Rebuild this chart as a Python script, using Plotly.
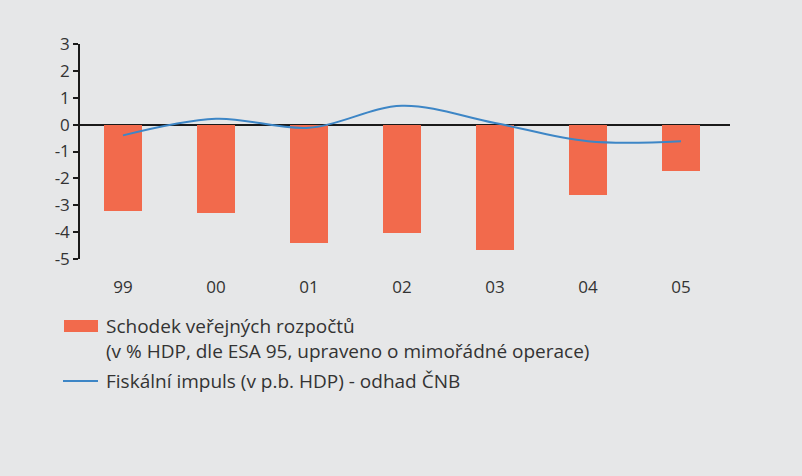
import plotly.graph_objects as go

categories = ["99", "00", "01", "02", "03", "04", "05"]
deficit = [-3.2, -3.3, -4.42, -4.05, -4.65, -2.6, -1.72]
impulse = [-0.4, 0.22, -0.12, 0.7, 0.06, -0.62, -0.62]
y_ticks = [3, 2, 1, 0, -1, -2, -3, -4, -5]
y_labels = ["3", "2", "1", "0", "-1", "-2", "-3", "-4", "-5"]
legend_bar = ["Schodek veřejných rozpočtů",
              "(v % HDP, dle ESA 95, upraveno o mimořádné operace)"]
legend_line = "Fiskální impuls (v p.b. HDP) - odhad ČNB"

BG = "#e6e7e8"
BAR = "#f26a4c"
LINE = "#3d86c6"
TXT = "#333333"
FONT = "Open Sans"

fig = go.Figure()
fig.add_trace(go.Bar(x=categories, y=deficit, marker=dict(color=BAR, line=dict(width=0)),
                     width=0.41, showlegend=False))
fig.add_trace(go.Scatter(x=categories, y=impulse, mode="lines",
                         line=dict(color=LINE, width=2, shape="spline", smoothing=1.0),
                         showlegend=False))

fig.update_layout(
    width=802, height=476,
    margin=dict(l=80, r=72, t=44, b=217),
    paper_bgcolor=BG, plot_bgcolor=BG,
    font=dict(family=FONT, size=17, color=TXT),
    xaxis=dict(type="category", range=[-0.462, 6.527], showgrid=False, zeroline=False,
               showline=False, ticks="outside", ticklen=13, tickcolor="rgba(0,0,0,0)",
               tickfont=dict(size=17, color=TXT)),
    yaxis=dict(range=[-5, 3], tickvals=y_ticks, ticktext=y_labels, showgrid=False,
               zeroline=True, zerolinecolor="#1a1a1a", zerolinewidth=1.5,
               showline=True, linecolor="#1a1a1a", linewidth=1.5,
               ticks="outside", ticklen=5, tickcolor="#1a1a1a", tickwidth=1.5,
               tickfont=dict(size=17, color=TXT)),
    bargap=0,
)

H = 476 - 44 - 217
W = 650


def px(x):
    return (x - 80) / W


def py(y):
    return (476 - 217 - y) / H


# manual legend
fig.add_shape(type="rect", xref="paper", yref="paper",
              x0=px(64), x1=px(98), y0=py(332), y1=py(320),
              fillcolor=BAR, line=dict(width=0))
fig.add_shape(type="line", xref="paper", yref="paper",
              x0=px(63), x1=px(98), y0=py(381), y1=py(381),
              line=dict(color=LINE, width=2))
fig.add_annotation(xref="paper", yref="paper", x=px(104), y=py(338),
                   text="<br>".join(legend_bar), showarrow=False, xanchor="left",
                   yanchor="middle", align="left", font=dict(size=19, color=TXT))
fig.add_annotation(xref="paper", yref="paper", x=px(104), y=py(381),
                   text=legend_line, showarrow=False, xanchor="left", yanchor="middle",
                   align="left", font=dict(size=19, color=TXT))

fig.write_html("out.html")
